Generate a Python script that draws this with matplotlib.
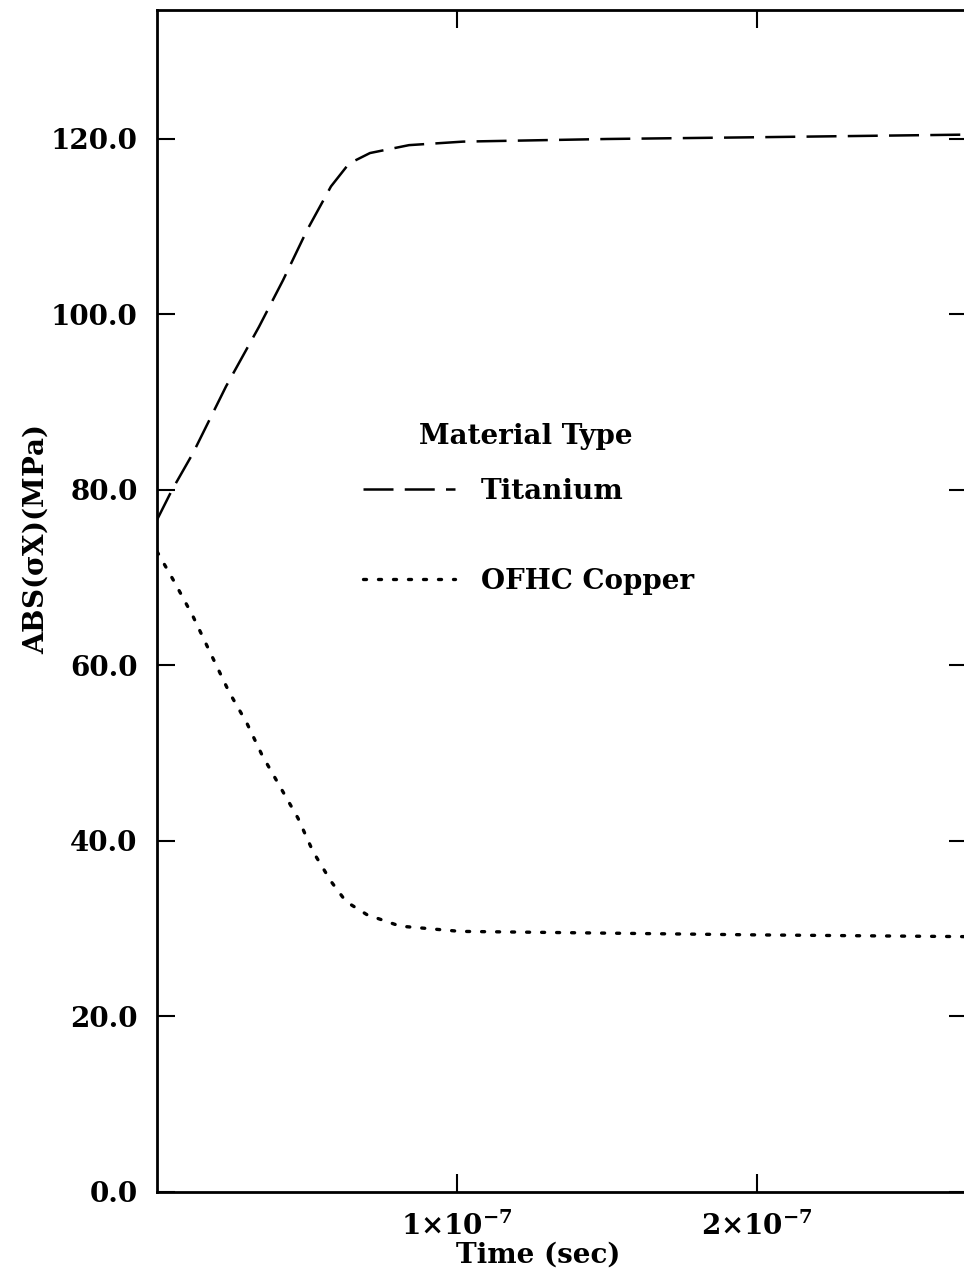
import numpy as np
import matplotlib.pyplot as plt

plt.rcParams['font.family'] = ['DejaVu Serif']
plt.rcParams['font.weight'] = 'bold'
plt.rcParams['mathtext.fontset'] = 'dejavuserif'
plt.rcParams['mathtext.default'] = 'bf'

# time in units of 1e-7 sec
t_titanium = [0, 0.05, 0.12, 0.23, 0.34, 0.42, 0.50, 0.58, 0.64, 0.71, 0.84, 1.02, 1.5, 2.0, 2.7]
titanium = [76.6, 80.0, 84.2, 91.8, 98.6, 103.9, 109.6, 114.6, 117.2, 118.4, 119.3, 119.7, 120.0, 120.2, 120.5]

t_copper = [0, 0.06, 0.12, 0.17, 0.24, 0.30, 0.35, 0.41, 0.47, 0.52, 0.58, 0.63, 0.70, 0.81, 1.01, 1.5, 2.0, 2.7]
copper = [73.0, 69.4, 65.6, 62.0, 57.0, 53.4, 49.8, 46.2, 42.6, 38.8, 35.4, 33.1, 31.6, 30.3, 29.7, 29.5, 29.3, 29.1]

yticks = [0, 20, 40, 60, 80, 100, 120]
xticks = [1e-7, 2e-7]
xticklabels = [r'$1{\times}10^{-7}$', r'$2{\times}10^{-7}$']

W, H = 964, 1282
fig = plt.figure(figsize=(W / 100, H / 100), dpi=100)
ax = fig.add_axes([157 / W, (H - 1192) / H, (967 - 157) / W, (1192 - 10) / H])

ax.plot(np.array(t_titanium) * 1e-7, titanium, color='black', lw=1.8,
        dashes=(12, 4.5), label='Titanium')
ax.plot(np.array(t_copper) * 1e-7, copper, color='black', lw=2.4,
        dashes=(0.9, 3.6), dash_capstyle='round', label='OFHC Copper')

ax.set_xlim(0, 2.7e-7)
ax.set_ylim(0, 134.7)
ax.set_yticks(yticks)
ax.set_yticklabels(['%.1f' % v for v in yticks])
ax.set_xticks(xticks)
ax.set_xticklabels(xticklabels)

ax.tick_params(direction='in', length=13, width=1.5, top=True, right=True,
               labelsize=20, pad=14)
for s in ax.spines.values():
    s.set_linewidth(2)

fig.text(538 / W, 1 - 1255 / H, 'Time (sec)', ha='center', va='center', fontsize=20)
fig.text(35 / W, 1 - 540 / H, r'ABS($\sigma$X)(MPa)', ha='center', va='center',
         rotation=90, fontsize=20)
fig.text(526 / W, 1 - 436 / H, 'Material Type', ha='center', va='center', fontsize=20)

leg = ax.legend(frameon=False, loc='upper left',
                bbox_to_anchor=(363 / W, 1 - 478 / H), bbox_transform=fig.transFigure,
                borderaxespad=0, borderpad=0, fontsize=20,
                handlelength=3.3, handletextpad=0.95, labelspacing=2.27)

fig.savefig('out.png', dpi=100)
